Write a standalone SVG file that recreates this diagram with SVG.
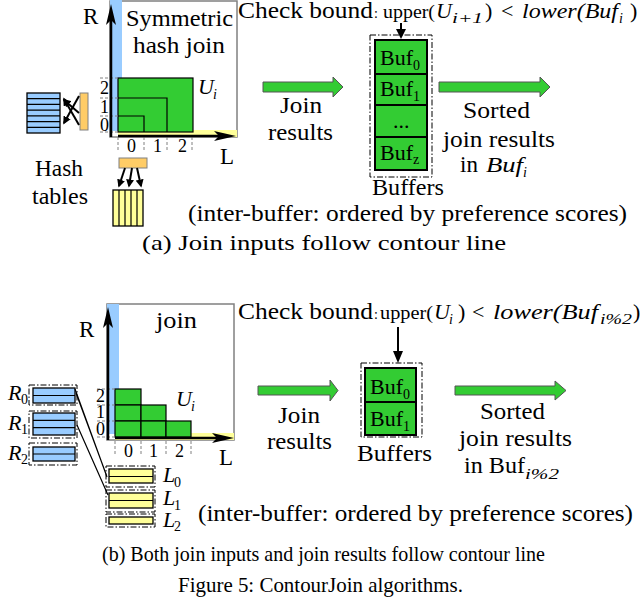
<svg xmlns="http://www.w3.org/2000/svg" width="642" height="604" viewBox="0 0 642 604">
<defs>
<marker id="ah" viewBox="0 0 10 10" refX="8" refY="5" markerWidth="4" markerHeight="4" orient="auto"><path d="M0,0 L10,5 L0,10 z" fill="#000"/></marker>
</defs>
<style>
text{font-family:"Liberation Serif","Times New Roman",serif;fill:#000}
.t{font-size:23px}
.m{font-size:22px;font-style:italic}
.mr{font-size:22px}
.sb{font-size:14px;font-style:italic}
.sr{font-size:14px}
.d{font-size:18px}
.cap{font-size:21px}
.box{fill:#fff;stroke:#808080;stroke-width:1.5}
.blue{fill:#99CCFF}
.yel{fill:#FFFF99}
.tb{stroke:#000;stroke-width:1.3}
.org{fill:#FFCC66;stroke:#808080;stroke-width:1}
.grn{fill:#33CC33;stroke:#000;stroke-width:1.2}
.bufc{fill:#33CC33;stroke:#000;stroke-width:2}
.dd{fill:none;stroke:#000;stroke-width:1;stroke-dasharray:6 2 1.5 2}
.gd{stroke:#808080;stroke-width:1;stroke-dasharray:3 2;fill:none}
.ax{stroke:#000;stroke-width:2.5;fill:none}
.ln{stroke:#000;stroke-width:1.2;fill:none}
.ar{stroke:#000;stroke-width:2;fill:none;marker-end:url(#ah)}
.garr{fill:#33CC33;stroke:#555;stroke-width:1}
</style>

<!-- ===== Panel (a) ===== -->
<g id="a-join-space">
  <rect class="box" x="110" y="1" width="127" height="136"/>
  <rect class="blue" x="110" y="0" width="12" height="131"/>
  <rect class="yel" x="118" y="130" width="119" height="7"/>
  <rect class="grn" x="118" y="78" width="75" height="54"/>
  <path class="ln" d="M118,98 H167 V132 M118,116 H144 V132"/>
  <path class="gd" d="M100,78 H118 M100,98 H118 M100,116 H118 M100,132 H118 M118,137 V150 M144,137 V150 M167,137 V150 M192,137 V150"/>
  <line class="ax" x1="111" y1="137" x2="111" y2="18"/>
  <path d="M111,4 L106,25 L111,20 L116,25 z"/>
  <line class="ax" x1="118" y1="136" x2="222" y2="136"/>
  <path d="M236,136 L214,131 L219,136 L214,141 z"/>
  <text class="t" x="83" y="24">R</text>
  <text class="t" x="220" y="164">L</text>
  <text class="t" x="126" y="26" textLength="107" lengthAdjust="spacingAndGlyphs">Symmetric</text>
  <text class="t" x="133" y="53" textLength="92" lengthAdjust="spacingAndGlyphs">hash join</text>
  <text class="m" x="198" y="94" font-size="23">U</text><text class="sb" x="213" y="99" font-size="16">i</text>
  <text class="d" x="100" y="94">2</text>
  <text class="d" x="100" y="113">1</text>
  <text class="d" x="100" y="131">0</text>
  <text class="d" x="127" y="152">0</text>
  <text class="d" x="153" y="152">1</text>
  <text class="d" x="178" y="152">2</text>
</g>

<g id="a-hash-r">
  <rect class="blue tb" x="27" y="93" width="33" height="40"/>
  <path class="ln" d="M27,98.7 H60 M27,104.4 H60 M27,110.1 H60 M27,115.9 H60 M27,121.6 H60 M27,127.3 H60"/>
  <rect class="org" x="80" y="93" width="8" height="37"/>
</g>
<g id="a-hash-l">
  <rect class="org" x="119" y="158" width="28" height="10"/>
  <rect class="yel tb" x="113" y="190" width="30" height="36"/>
  <path class="ln" d="M119,190 V226 M125,190 V226 M131,190 V226 M137,190 V226"/>
</g>
<g id="a-hash-label">
  <text class="t" x="35" y="176" textLength="48" lengthAdjust="spacingAndGlyphs">Hash</text>
  <text class="t" x="32" y="204" textLength="56" lengthAdjust="spacingAndGlyphs">tables</text>
</g>

<g id="a-check">
  <text class="t" x="238" y="18" textLength="135" lengthAdjust="spacingAndGlyphs">Check bound</text>
  <text class="sr" x="374" y="18">:</text>
  <text class="d" x="383" y="18" textLength="52" lengthAdjust="spacingAndGlyphs">upper(</text>
  <text class="m" x="436" y="18">U</text>
  <text class="sb" x="452" y="23" textLength="31" lengthAdjust="spacingAndGlyphs">i+1</text>
  <text class="mr" x="485" y="18">)</text>
  <text class="mr" x="501" y="18">&lt;</text>
  <text class="m" x="522" y="18" textLength="96" lengthAdjust="spacingAndGlyphs">lower(Buf</text>
  <text class="sb" x="619" y="23">i</text>
  <text class="mr" x="630" y="18">)</text>
</g>

<g id="a-buffers">
  <rect class="dd" x="370" y="35" width="62" height="142"/>
  <rect class="bufc" x="375" y="40" width="52" height="34"/>
  <rect class="bufc" x="375" y="74" width="52" height="31"/>
  <rect class="bufc" x="375" y="105" width="52" height="32"/>
  <rect class="bufc" x="375" y="137" width="52" height="33"/>
  <text class="mr" x="380" y="65">Buf<tspan class="sr" dy="5">0</tspan></text>
  <text class="mr" x="380" y="96">Buf<tspan class="sr" dy="5">1</tspan></text>
  <text class="mr" x="393" y="128">...</text>
  <text class="mr" x="380" y="160">Buf<tspan class="sr" dy="4">z</tspan></text>
  <text class="t" x="372" y="195" textLength="72" lengthAdjust="spacingAndGlyphs">Buffers</text>
</g>

<g id="a-labels">
  <text class="t" x="280" y="113" textLength="42" lengthAdjust="spacingAndGlyphs">Join</text>
  <text class="t" x="268" y="140" textLength="65" lengthAdjust="spacingAndGlyphs">results</text>
  <text class="t" x="463" y="118" textLength="67" lengthAdjust="spacingAndGlyphs">Sorted</text>
  <text class="t" x="443" y="147" textLength="112" lengthAdjust="spacingAndGlyphs">join results</text>
  <text class="t" x="460" y="172">in</text>
  <text class="m" x="486" y="172" textLength="37" lengthAdjust="spacingAndGlyphs">Buf</text>
  <text class="sb" x="523" y="177">i</text>
  <text class="t" x="188" y="221" textLength="439" lengthAdjust="spacingAndGlyphs">(inter-buffer: ordered by preference scores)</text>
</g>

<g id="a-connectors">
  <line class="ar" x1="79" y1="96" x2="64" y2="123"/>
  <line class="ar" x1="79" y1="125" x2="64" y2="99"/>
  <line class="ar" x1="79" y1="113" x2="64" y2="100"/>
  <line class="ar" x1="125" y1="168" x2="119" y2="186"/>
  <line class="ar" x1="132" y1="168" x2="129" y2="186"/>
  <line class="ar" x1="137" y1="168" x2="141" y2="186"/>
  <line stroke="#000" stroke-width="2" x1="401" y1="23" x2="401" y2="31"/>
  <path d="M401,39 L396,29 L406,29 z"/>
  <path class="garr" d="M263,82 H333 V77 L343,87 L333,97 V92 H263 z"/>
  <path class="garr" d="M439,82 H540 V77 L550,87 L540,97 V92 H439 z"/>
</g>

<text class="cap" x="142" y="250" textLength="364" lengthAdjust="spacingAndGlyphs">(a) Join inputs follow contour line</text>

<!-- ===== Panel (b) ===== -->
<g id="b-join-space">
  <rect class="box" x="107" y="304" width="127" height="136"/>
  <rect class="blue" x="107" y="304" width="12" height="130"/>
  <rect class="yel" x="115" y="433" width="119" height="7"/>
  <rect class="grn" x="115" y="389" width="26" height="16"/>
  <rect class="grn" x="115" y="405" width="26" height="16"/>
  <rect class="grn" x="141" y="405" width="25" height="16"/>
  <rect class="grn" x="115" y="421" width="26" height="16"/>
  <rect class="grn" x="141" y="421" width="25" height="16"/>
  <rect class="grn" x="166" y="421" width="25" height="16"/>
  <path class="gd" d="M97,389 H115 M97,405 H115 M97,421 H115 M97,437 H115 M115,441 V455 M141,441 V455 M166,441 V455 M191,441 V455"/>
  <line class="ax" x1="108" y1="440" x2="108" y2="320"/>
  <path d="M108,307 L103,328 L108,323 L113,328 z"/>
  <line class="ax" x1="115" y1="438" x2="220" y2="438"/>
  <path d="M234,438 L212,433 L217,438 L212,443 z"/>
  <text class="t" x="79" y="337">R</text>
  <text class="t" x="219" y="465">L</text>
  <text class="t" x="156" y="328" textLength="41" lengthAdjust="spacingAndGlyphs">join</text>
  <text class="m" x="176" y="406" font-size="23">U</text><text class="sb" x="191" y="411" font-size="16">i</text>
  <text class="d" x="96" y="402" font-size="17">2</text>
  <text class="d" x="96" y="418" font-size="17">1</text>
  <text class="d" x="96" y="435" font-size="17">0</text>
  <text class="d" x="124" y="457">0</text>
  <text class="d" x="149" y="457">1</text>
  <text class="d" x="175" y="457">2</text>
</g>

<g id="b-r0">
  <rect class="dd" x="29" y="385" width="48" height="20"/>
  <rect class="blue tb" x="33" y="388" width="42" height="15"/>
  <path class="ln" d="M33,395.5 H75"/>
  <text class="m" x="8" y="400" font-size="21">R</text><text class="sr" x="21" y="404">0</text>
</g>
<g id="b-r1">
  <rect class="dd" x="29" y="411" width="48" height="27"/>
  <rect class="blue tb" x="33" y="413" width="42" height="22"/>
  <path class="ln" d="M33,420.3 H75 M33,427.7 H75"/>
  <text class="m" x="8" y="430" font-size="21">R</text><text class="sr" x="21" y="434">1</text>
</g>
<g id="b-r2">
  <rect class="dd" x="29" y="443" width="48" height="22"/>
  <rect class="blue tb" x="33" y="447" width="42" height="14"/>
  <path class="ln" d="M33,454 H75"/>
  <text class="m" x="8" y="460" font-size="21">R</text><text class="sr" x="21" y="464">2</text>
</g>
<g id="b-l0">
  <rect class="dd" x="106" y="466" width="49" height="21"/>
  <rect class="yel tb" x="109" y="469" width="44" height="14"/>
  <path class="ln" d="M109,476.5 H153"/>
  <text class="m" x="163" y="482" font-size="21">L</text><text class="sr" x="174" y="487">0</text>
</g>
<g id="b-l1">
  <rect class="dd" x="106" y="490" width="49" height="22"/>
  <rect class="yel tb" x="109" y="493" width="44" height="15"/>
  <path class="ln" d="M109,500.5 H153"/>
  <text class="m" x="163" y="505" font-size="21">L</text><text class="sr" x="174" y="510">1</text>
</g>
<g id="b-l2">
  <rect class="dd" x="106" y="514" width="49" height="13"/>
  <rect class="yel tb" x="109" y="517" width="44" height="7"/>
  <text class="m" x="163" y="527" font-size="21">L</text><text class="sr" x="174" y="531">2</text>
</g>

<g id="b-check">
  <text class="t" x="238" y="319" textLength="135" lengthAdjust="spacingAndGlyphs">Check bound</text>
  <text class="sr" x="374" y="319">:</text>
  <text class="d" x="380" y="319" textLength="53" lengthAdjust="spacingAndGlyphs">upper(</text>
  <text class="m" x="434" y="319">U</text>
  <text class="sb" x="449" y="324">i</text>
  <text class="mr" x="458" y="319">)</text>
  <text class="mr" x="472" y="319">&lt;</text>
  <text class="m" x="493" y="319" textLength="105" lengthAdjust="spacingAndGlyphs">lower(Buf</text>
  <text class="sb" x="600" y="324" textLength="32" lengthAdjust="spacingAndGlyphs">i%2</text>
  <text class="mr" x="633" y="319">)</text>
</g>

<g id="b-buffers">
  <rect class="dd" x="361" y="363" width="61" height="74"/>
  <rect class="bufc" x="365" y="368" width="51" height="34"/>
  <rect class="bufc" x="365" y="402" width="51" height="33"/>
  <text class="mr" x="370" y="394">Buf<tspan class="sr" dy="5">0</tspan></text>
  <text class="mr" x="370" y="426">Buf<tspan class="sr" dy="5">1</tspan></text>
  <text class="t" x="357" y="461" textLength="75" lengthAdjust="spacingAndGlyphs">Buffers</text>
</g>

<g id="b-labels">
  <text class="t" x="278" y="423" textLength="42" lengthAdjust="spacingAndGlyphs">Join</text>
  <text class="t" x="267" y="449" textLength="65" lengthAdjust="spacingAndGlyphs">results</text>
  <text class="t" x="480" y="419" textLength="65" lengthAdjust="spacingAndGlyphs">Sorted</text>
  <text class="t" x="459" y="446" textLength="113" lengthAdjust="spacingAndGlyphs">join results</text>
  <text class="t" x="464" y="473" textLength="61" lengthAdjust="spacingAndGlyphs">in Buf</text>
  <text class="sb" x="525" y="479" font-size="15" textLength="34" lengthAdjust="spacingAndGlyphs">i%2</text>
  <text class="t" x="198" y="521" textLength="435" lengthAdjust="spacingAndGlyphs">(inter-buffer: ordered by preference scores)</text>
</g>

<g id="b-connectors">
  <path class="ln" d="M75,389 L107,477 M76,393 L106,474 M77,425 L108,495"/>
  <line stroke="#000" stroke-width="2" x1="398" y1="327" x2="398" y2="353"/>
  <path d="M398,363 L393,351 L403,351 z"/>
  <path class="garr" d="M258,386 H330 V380 L338,390.5 L330,401 V395 H258 z"/>
  <path class="garr" d="M455,386 H555 V381 L566,390.5 L555,400 V395 H455 z"/>
</g>

<text class="cap" x="102" y="561" textLength="443" lengthAdjust="spacingAndGlyphs">(b) Both join inputs and join results follow contour line</text>
<text class="cap" x="178" y="592" textLength="285" lengthAdjust="spacingAndGlyphs">Figure 5: ContourJoin algorithms.</text>
</svg>
